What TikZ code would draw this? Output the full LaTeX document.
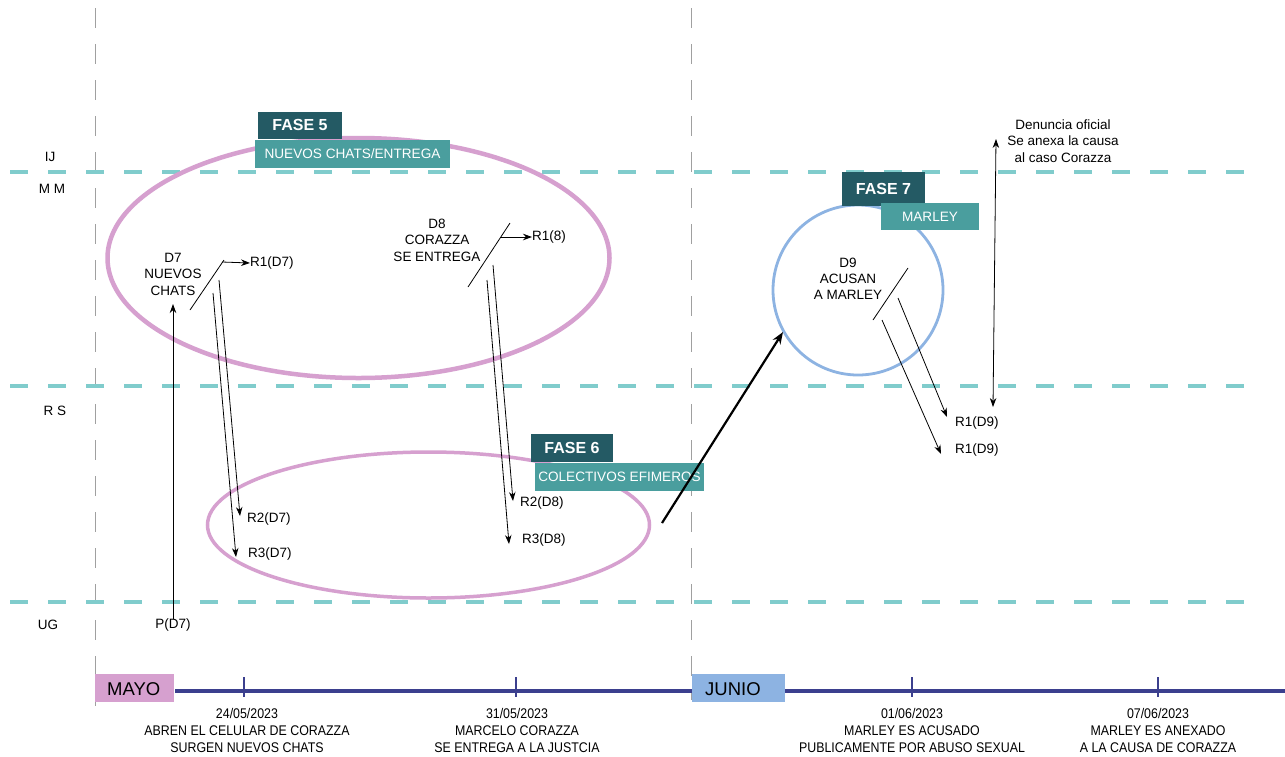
\documentclass[tikz,border=0pt]{standalone}
\usepackage{fontspec}
\setmainfont{Liberation Sans}
\newfontfamily\condfont{Liberation Sans}[FakeStretch=0.885]
\usetikzlibrary{arrows.meta}
\definecolor{pinkE}{HTML}{D6A0CF}
\definecolor{blueC}{HTML}{8DB3E2}
\definecolor{cyanL}{HTML}{80CCCC}
\definecolor{darkT}{HTML}{245A64}
\definecolor{tealB}{HTML}{4A9E9E}
\definecolor{navy}{HTML}{3B3F8E}
\definecolor{grayL}{HTML}{A0A0A0}
\tikzset{
  txt/.style={inner sep=0pt, align=center, font=\fontsize{13.5}{16.5}\selectfont},
  lvl/.style={inner sep=0pt, font=\fontsize{13.5}{15}\selectfont},
  darkbox/.style={fill=darkT, text=white, inner sep=0pt, font=\fontsize{16}{18}\selectfont\bfseries},
  tealbox/.style={fill=tealB, text=white, inner sep=0pt, font=\fontsize{13.6}{16}\selectfont},
  arr/.style={-{Stealth[length=9pt,width=6.5pt]}, line width=0.8pt},
  plain/.style={line width=0.8pt},
  hdash/.style={cyanL, line width=4pt, dash pattern=on 18pt off 20pt},
  vdash/.style={grayL, line width=0.9pt, dash pattern=on 20pt off 16pt},
  tick/.style={navy, line width=2.5pt},
  tl/.style={inner sep=0pt, align=center, font=\condfont\fontsize{14}{17}\selectfont},
  month/.style={inner sep=0pt, font=\fontsize{18.5}{20}\selectfont},
}
\begin{document}
\begin{tikzpicture}[x=1pt,y=-1pt]
\useasboundingbox (0,0) rectangle (1285,756);
\fill[white] (0,0) rectangle (1285,756);

% grid lines
\draw[vdash] (95,8) -- (95,706);
\draw[vdash] (691,8) -- (691,700);
\draw[hdash] (10,172) -- (1255,172);
\draw[hdash] (10,386) -- (1255,386);
\draw[hdash] (10,602) -- (1255,602);

% level labels
\node[lvl] (ij) at (50,157) {IJ};
\node[lvl] (mm) at (52,189) {M M};
\node[lvl] (rs) at (55,411) {R S};
\node[lvl] (ug) at (48,625) {UG};

% ellipses
\draw[pinkE, line width=4.5pt] (358.5,258) ellipse [x radius=251, y radius=120];
\draw[pinkE, line width=3.5pt] (428.5,525) ellipse [x radius=221, y radius=73];
\draw[blueC, line width=2.8pt] (858,290) circle [radius=85];

% phase boxes
\node[darkbox, minimum width=84pt, minimum height=27pt] (f5) at (300,125) {FASE 5};
\node[tealbox, minimum width=195pt, minimum height=28pt] (f5t) at (352.5,154) {NUEVOS CHATS/ENTREGA};
\node[darkbox, minimum width=82pt, minimum height=28pt] (f6) at (572,448) {FASE 6};
\node[tealbox, minimum width=169pt, minimum height=28pt] (f6t) at (619.5,477) {COLECTIVOS EFIMEROS};
\node[darkbox, minimum width=83pt, minimum height=34pt] (f7) at (883.5,189) {FASE 7};
\node[tealbox, minimum width=98pt, minimum height=27pt] (f7t) at (930,216.5) {MARLEY};

% D7 group
\node[txt] (d7) at (173,274) {D7\\NUEVOS\\CHATS};
\coordinate (s7a) at (190,310);
\coordinate (s7b) at (224,260);
\draw[plain] (s7a) -- (s7b);
\coordinate (r1s7) at (222,262);
\node[lvl, anchor=west] (r1d7) at (250,263) {R1(D7)};
\draw[arr] (r1s7) -- (r1d7.west);
\node[lvl] (pd7) at (173,625) {P(D7)};
\coordinate (pd7top) at (173,304);
\draw[arr] (pd7.north) -- (pd7top);
\coordinate (a7) at (219,280);
\coordinate (b7) at (213,293);
\node[lvl, anchor=west] (r2d7) at (247,519) {R2(D7)};
\node[lvl, anchor=west] (r3d7) at (248,554) {R3(D7)};
\coordinate (e2d7) at (240,516);
\coordinate (e3d7) at (236,557);
\draw[arr] (a7) -- (e2d7);
\draw[arr] (b7) -- (e3d7);

% D8 group
\node[txt] (d8) at (437,240) {D8\\CORAZZA\\SE ENTREGA};
\coordinate (s8a) at (468,287);
\coordinate (s8b) at (510,223);
\draw[plain] (s8a) -- (s8b);
\coordinate (r1s8) at (501,237);
\node[lvl, anchor=west] (r18) at (532,237) {R1(8)};
\draw[arr] (r1s8) -- (r18.west);
\coordinate (a8) at (493,265);
\coordinate (b8) at (487,280);
\node[lvl, anchor=west] (r2d8) at (520,503) {R2(D8)};
\node[lvl, anchor=west] (r3d8) at (522,540) {R3(D8)};
\coordinate (e2d8) at (513,501);
\coordinate (e3d8) at (509,544);
\draw[arr] (a8) -- (e2d8);
\draw[arr] (b8) -- (e3d8);

% transition arrow
\coordinate (ta) at (662,523);
\coordinate (tb) at (783,332);
\draw[-{Stealth[length=12pt,width=9pt]}, line width=2.2pt] (ta) -- (tb);

% D9 group
\node[txt, font=\fontsize{13.5}{15.8}\selectfont] (d9) at (848,279) {D9\\ACUSAN\\A MARLEY};
\coordinate (s9a) at (873,320);
\coordinate (s9b) at (908,268);
\draw[plain] (s9a) -- (s9b);
\coordinate (a9) at (898,298);
\coordinate (b9) at (882,320);
\node[lvl, anchor=west] (r1d9a) at (955,423) {R1(D9)};
\node[lvl, anchor=west] (r1d9b) at (955,450) {R1(D9)};
\coordinate (e1d9) at (947,417);
\coordinate (e2d9) at (941,454);
\draw[arr] (a9) -- (e1d9);
\draw[arr] (b9) -- (e2d9);

% denuncia
\node[txt] (den) at (1063,141) {Denuncia oficial\\Se anexa la causa\\al caso Corazza};
\coordinate (va) at (993,407);
\coordinate (vb) at (996,139);
\draw[{Stealth[length=9pt,width=6.5pt]}-{Stealth[length=9pt,width=6.5pt]}, line width=0.8pt] (va) -- (vb);

% timeline
\draw[navy, line width=3.5pt] (175,691) -- (1285,691);
\node[fill=pinkE, minimum width=79pt, minimum height=28pt, inner sep=0pt] (mayo) at (134.5,688) {};
\node[month, anchor=west] at (107,689) {MAYO};
\node[fill=blueC, minimum width=93pt, minimum height=28pt, inner sep=0pt] (junio) at (738.5,688) {};
\node[month, anchor=west] at (705,689) {JUNIO};
\draw[tick] (244,677) -- (244,697);
\draw[tick] (516,677) -- (516,697);
\draw[tick] (912,677) -- (912,697);
\draw[tick] (1158,677) -- (1158,697);
\node[tl] (t1) at (247,730) {24/05/2023\\ABREN EL CELULAR DE CORAZZA\\SURGEN NUEVOS CHATS};
\node[tl] (t2) at (517,730) {31/05/2023\\MARCELO CORAZZA\\SE ENTREGA A LA JUSTCIA};
\node[tl] (t3) at (912,730) {01/06/2023\\MARLEY ES ACUSADO\\PUBLICAMENTE POR ABUSO SEXUAL};
\node[tl] (t4) at (1158,730) {07/06/2023\\MARLEY ES ANEXADO\\A LA CAUSA DE CORAZZA};
\end{tikzpicture}
\end{document}
